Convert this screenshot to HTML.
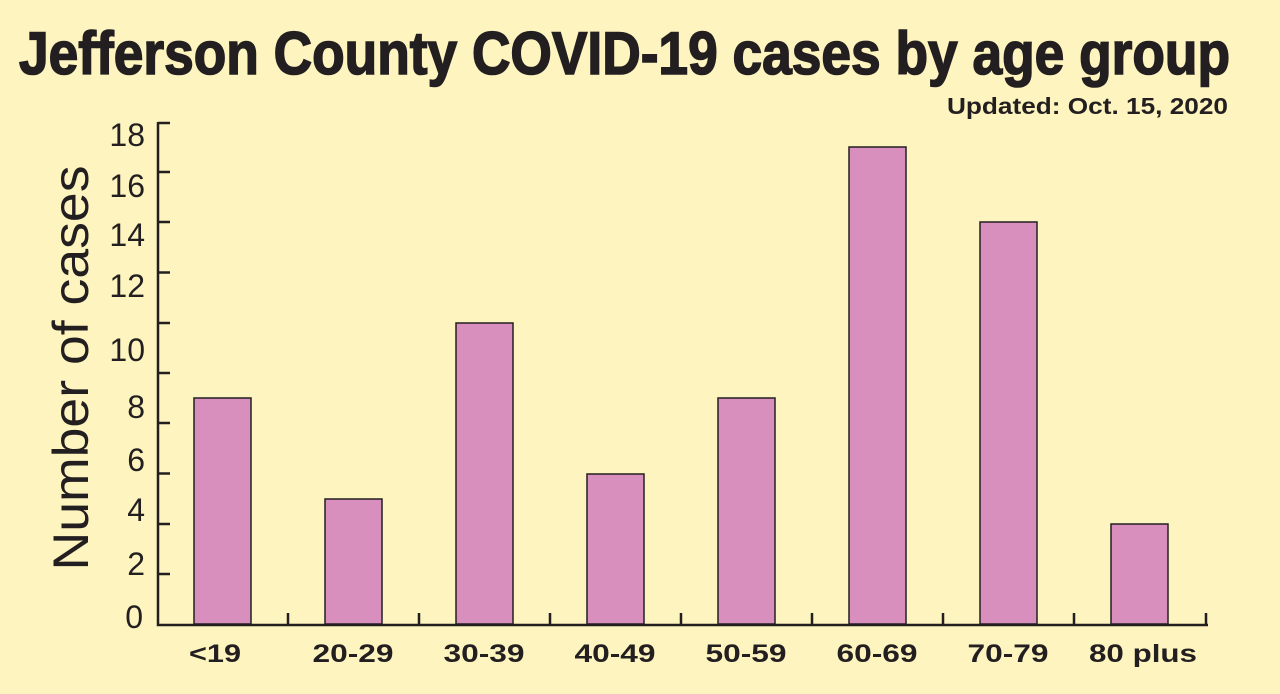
<!DOCTYPE html>
<html><head><style>
html,body{margin:0;padding:0;background:#fdf4bf;}
svg{display:block;}
</style></head><body>
<svg width="1280" height="694" viewBox="0 0 1280 694" xmlns="http://www.w3.org/2000/svg">
<rect width="1280" height="694" fill="#fdf4bf"/>
<g font-family="Liberation Sans, Arial, sans-serif" fill="#231f20">
<text x="19" y="74" font-size="60" font-weight="bold" stroke="#231f20" stroke-width="1.6" textLength="1211" lengthAdjust="spacingAndGlyphs">Jefferson County COVID-19 cases by age group</text>
<text x="947" y="114" font-size="23" font-weight="bold" textLength="281" lengthAdjust="spacingAndGlyphs">Updated: Oct. 15, 2020</text>
<text transform="translate(88,368) rotate(-90)" font-size="50" text-anchor="middle" textLength="405" lengthAdjust="spacingAndGlyphs">Number of cases</text>
<g font-size="32" text-anchor="end">
<text x="145" y="146">18</text>
<text x="145" y="197">16</text>
<text x="145" y="246">14</text>
<text x="145" y="297">12</text>
<text x="145" y="361">10</text>
<text x="145" y="418">8</text>
<text x="145" y="471">6</text>
<text x="145" y="521">4</text>
<text x="145" y="575">2</text>
<text x="143" y="628">0</text>
</g>
<g font-size="25" font-weight="bold" text-anchor="middle">
<text x="215" y="662" textLength="52" lengthAdjust="spacingAndGlyphs">&lt;19</text>
<text x="353" y="662" textLength="81" lengthAdjust="spacingAndGlyphs">20-29</text>
<text x="484" y="662" textLength="81" lengthAdjust="spacingAndGlyphs">30-39</text>
<text x="615" y="662" textLength="81" lengthAdjust="spacingAndGlyphs">40-49</text>
<text x="746" y="662" textLength="81" lengthAdjust="spacingAndGlyphs">50-59</text>
<text x="877" y="662" textLength="81" lengthAdjust="spacingAndGlyphs">60-69</text>
<text x="1008" y="662" textLength="81" lengthAdjust="spacingAndGlyphs">70-79</text>
<text x="1143" y="662" textLength="108" lengthAdjust="spacingAndGlyphs">80 plus</text>
</g>
</g>
<g fill="#d98fbe" stroke="#231f20" stroke-width="1.5">
<rect x="194" y="398" width="57" height="226"/>
<rect x="325" y="499" width="57" height="125"/>
<rect x="456" y="323" width="57" height="301"/>
<rect x="587" y="474" width="57" height="150"/>
<rect x="718" y="398" width="57" height="226"/>
<rect x="849" y="147" width="57" height="477"/>
<rect x="980" y="222" width="57" height="402"/>
<rect x="1111" y="524" width="57" height="100"/>
</g>
<g stroke="#231f20" stroke-width="2.5" fill="none">
<path d="M158 122 V625 H1208"/>
<path d="M158 123H170M158 172H170M158 222H170M158 272.5H170M158 323H170M158 373H170M158 423H170M158 473.5H170M158 524H170M158 574H170"/>
<path d="M288 624V613M419 624V613M550 624V613M681 624V613M812 624V613M943 624V613M1074 624V613M1206 624V613"/>
</g>
</svg>
</body></html>
